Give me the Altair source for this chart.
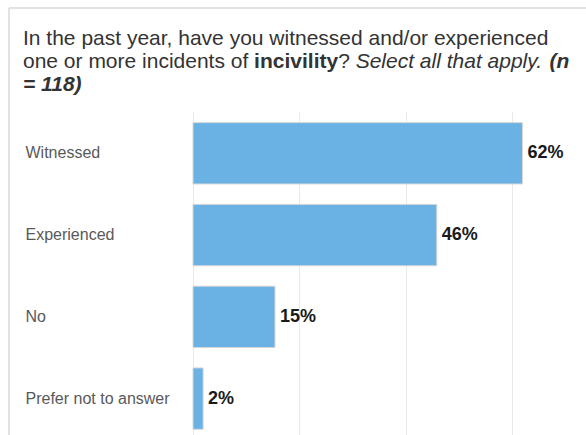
import altair as alt
import pandas as pd

# ---- data ----
categories = ["Witnessed", "Experienced", "No", "Prefer not to answer"]
percent = [61.9, 45.8, 15.4, 1.9]
value_labels = ["62%", "46%", "15%", "2%"]

title_line1 = "In the past year, have you witnessed and/or experienced"
title_line2 = [
    ("one or more incidents of ", "normal", "normal"),
    ("incivility", "bold", "normal"),
    ("? ", "normal", "normal"),
    ("Select all that apply. ", "normal", "italic"),
    ("(n", "bold", "italic"),
]
title_line3 = "= 118)"

# ---- layout ----
FONT = "Liberation Sans"
LEFT, TOP = 193, 112
W, H = 586 - LEFT, 435 - TOP
TF = 21  # title font size
TX = 23  # title left (absolute)
BASELINES = [44.5, 67.5, 90.5]

REG = {' ': 278, 'o': 556, 'n': 556, 'e': 556, 'r': 333, 'm': 833, 'i': 222, 'c': 500,
       'd': 556, 't': 278, 's': 500, 'f': 278, '?': 556, 'S': 667, 'l': 222, 'a': 556,
       'h': 556, 'p': 556, 'y': 500, '.': 278}
BOLD = {'i': 278, 'n': 611, 'c': 556, 'v': 556, 'l': 278, 't': 333, 'y': 556, '(': 333, ' ': 278}


def width(s, weight):
    table = BOLD if weight == "bold" else REG
    return sum(table.get(ch, 556) for ch in s) / 1000 * TF


df = pd.DataFrame({"category": categories, "percent": percent, "label": value_labels})
one = pd.DataFrame({"d": [0]})

x_scale = alt.Scale(domain=[0, W / (330 / 62)], nice=False, zero=True)
y_scale = alt.Scale(paddingInner=0.25, paddingOuter=0.1, align=0.65)

bars = alt.Chart(df).mark_bar(color="#6ab1e4", stroke="#d6d6d6", strokeWidth=1).encode(
    x=alt.X("percent:Q", scale=x_scale,
            axis=alt.Axis(values=[0, 20, 40, 60], labels=False, ticks=False, domain=False,
                          title=None, grid=True, gridColor="#e9e9e9", gridWidth=1)),
    y=alt.Y("category:N", sort=categories, scale=y_scale,
            axis=alt.Axis(title=None, labelAlign="left", labelPadding=168, ticks=False,
                          domain=False, labelFontSize=16, labelColor="#595959",
                          labelFont=FONT, grid=False, labelLimit=0)),
)

values = alt.Chart(df).mark_text(align="left", baseline="middle", dx=5, fontSize=18,
                                 fontWeight="bold", color="#1a1a1a", font=FONT).encode(
    x="percent:Q",
    y=alt.Y("category:N", sort=categories),
    text="label:N",
)

border_top = alt.Chart(one).mark_rule(color="#e2e2e2", strokeWidth=2).encode(
    x=alt.value(9 - LEFT), x2=alt.value(W + 10), y=alt.value(8 - TOP))
border_left = alt.Chart(one).mark_rule(color="#e2e2e2", strokeWidth=2).encode(
    x=alt.value(9 - LEFT), y=alt.value(8 - TOP), y2=alt.value(H + 10))

title_layers = []


def add_text(s, x_abs, y_abs, weight="normal", style="normal"):
    title_layers.append(
        alt.Chart(one).mark_text(text=s, align="left", baseline="alphabetic", fontSize=TF,
                                 font=FONT, fontWeight=weight, fontStyle=style,
                                 color="#333333").encode(
            x=alt.value(x_abs - LEFT), y=alt.value(y_abs - TOP)))


add_text(title_line1, TX, BASELINES[0])
cx = TX
for s, wgt, sty in title_line2:
    add_text(s, cx, BASELINES[1], wgt, sty)
    cx += width(s, wgt)
add_text(title_line3, TX, BASELINES[2], "bold", "italic")

chart = alt.layer(border_top, border_left, bars, values, *title_layers).properties(
    width=W, height=H,
    autosize=alt.AutoSizeParams(type="none"),
    padding={"left": LEFT, "top": TOP, "right": 0, "bottom": 0},
    background="white",
).configure_view(stroke=None)

chart.save("out.html", embed_options={"renderer": "svg", "actions": False})
